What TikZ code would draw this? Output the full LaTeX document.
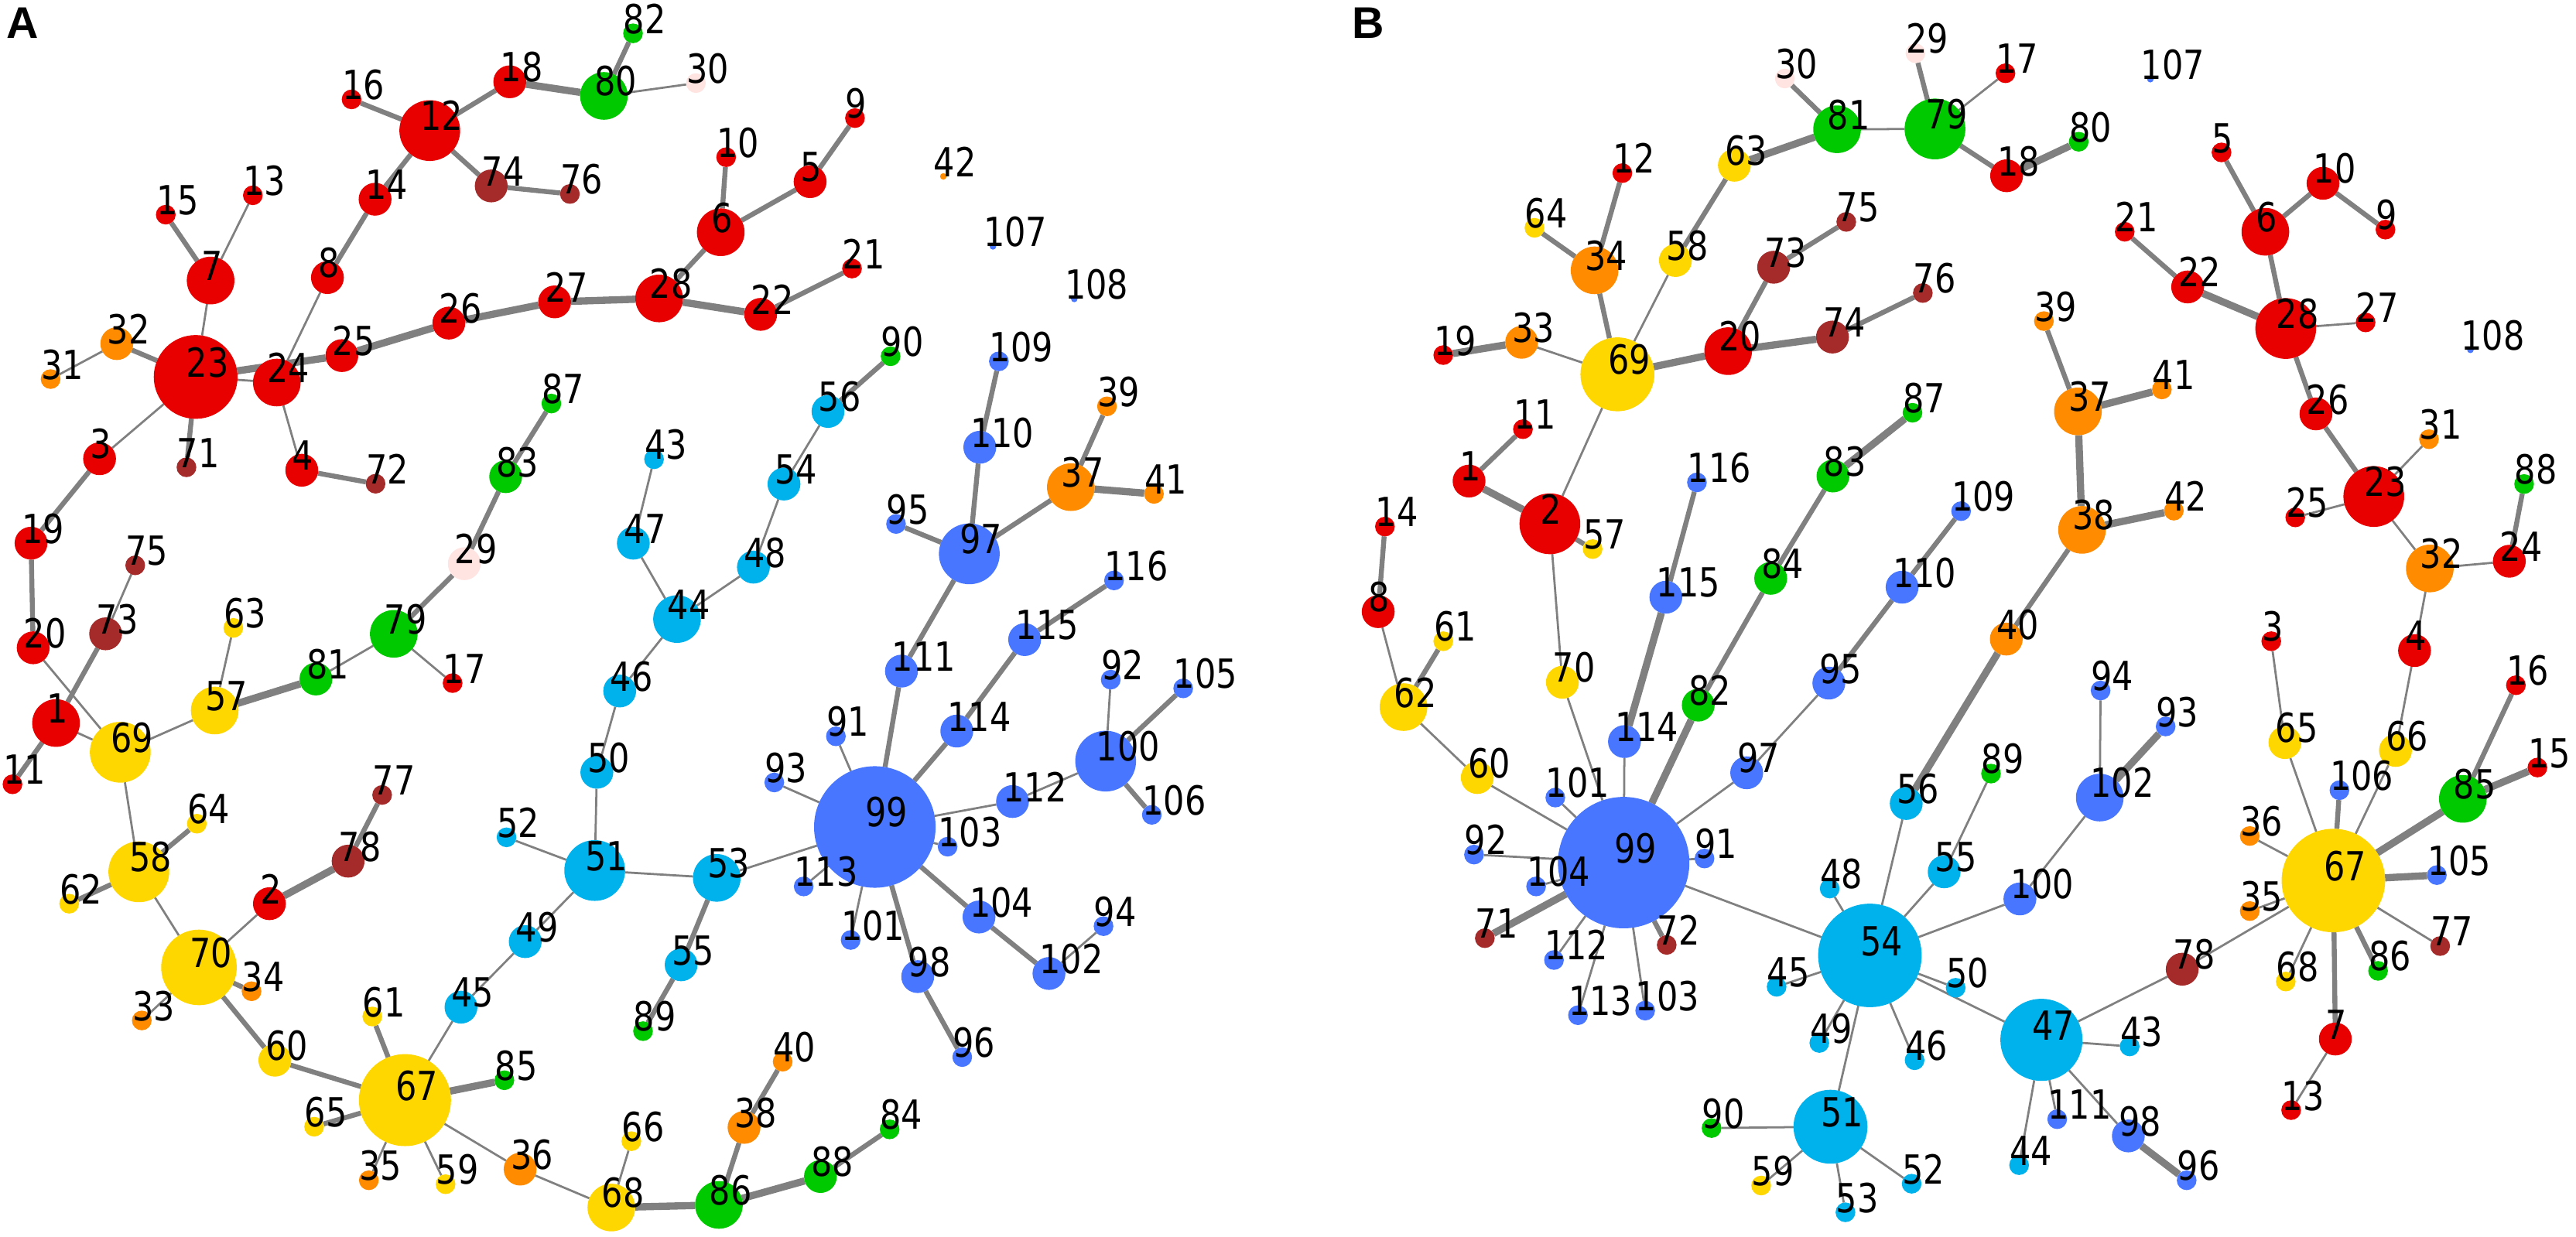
\documentclass[tikz,border=0pt]{standalone}
\usepackage{fontspec}
\newfontfamily\lblfont[FakeStretch=0.83]{DejaVu Sans}
\newfontfamily\panelfont{Liberation Sans}
\pgfdeclarelayer{edges}
\pgfdeclarelayer{labels}
\pgfsetlayers{edges,main,labels}
\definecolor{cR}{RGB}{232,0,0}
\definecolor{cBr}{RGB}{165,42,42}
\definecolor{cG}{RGB}{0,201,0}
\definecolor{cO}{RGB}{255,140,0}
\definecolor{cY}{RGB}{255,215,0}
\definecolor{cP}{RGB}{255,228,225}
\definecolor{cC}{RGB}{0,178,236}
\definecolor{cB}{RGB}{72,118,255}
\definecolor{cE}{RGB}{128,128,128}
\tikzset{
  vtx/.style={circle,inner sep=0pt,outer sep=0pt,draw=none},
  lbl/.style={anchor=base west,inner sep=0pt,outer sep=0pt,text=black,font=\lblfont\fontsize{24.4}{24.4}\selectfont},
  ea/.style={draw=cE,line width=1.3pt},
  eb/.style={draw=cE,line width=3pt},
  ec/.style={draw=cE,line width=4.4pt},
  paneltxt/.style={anchor=base west,inner sep=0pt,font=\panelfont\bfseries\fontsize{27}{27}\selectfont}
}
\newcommand\mkvtx[6]{%
  \node[vtx,fill=#5,minimum size=#4pt] (#1) at (#2,#3) {};
  \begin{pgfonlayer}{labels}\node[lbl] (#1t) at ([xshift=-5.7pt]#1.center) {#6};\end{pgfonlayer}}
\begin{document}
\begin{tikzpicture}[x=1pt,y=-1pt]
\path[use as bounding box] (0,0) rectangle (1568,753);
\node[paneltxt] (panelA) at (4,23.5) {A};
\node[paneltxt] (panelB) at (823,23.5) {B};
% ---------------- Panel A ----------------
\mkvtx{a1}{34.1}{440.2}{29}{cR}{1}
\mkvtx{a2}{164}{550.2}{20}{cR}{2}
\mkvtx{a3}{60.6}{279.3}{20}{cR}{3}
\mkvtx{a4}{183.7}{286.3}{20}{cR}{4}
\mkvtx{a5}{493.1}{110.6}{20}{cR}{5}
\mkvtx{a6}{438.7}{141.4}{29}{cR}{6}
\mkvtx{a7}{128.2}{170.8}{29}{cR}{7}
\mkvtx{a8}{199.3}{169}{20}{cR}{8}
\mkvtx{a9}{520.4}{71.9}{12}{cR}{9}
\mkvtx{a10}{442}{95.7}{12}{cR}{10}
\mkvtx{a11}{7.6}{477.5}{12}{cR}{11}
\mkvtx{a12}{261.6}{79.5}{37}{cR}{12}
\mkvtx{a13}{153.9}{118.9}{12}{cR}{13}
\mkvtx{a14}{228.3}{121.3}{20}{cR}{14}
\mkvtx{a15}{100.9}{130.7}{12}{cR}{15}
\mkvtx{a16}{214}{60.5}{12}{cR}{16}
\mkvtx{a17}{275.5}{415.9}{12}{cR}{17}
\mkvtx{a18}{310.3}{49.8}{20}{cR}{18}
\mkvtx{a19}{18.9}{330.7}{20}{cR}{19}
\mkvtx{a20}{20.2}{394.4}{20}{cR}{20}
\mkvtx{a21}{518.6}{163.5}{12}{cR}{21}
\mkvtx{a22}{463}{191.4}{20}{cR}{22}
\mkvtx{a23}{119.1}{229.5}{51}{cR}{23}
\mkvtx{a24}{168.5}{232.9}{29}{cR}{24}
\mkvtx{a25}{208.1}{216.5}{20}{cR}{25}
\mkvtx{a26}{273.2}{196.7}{20}{cR}{26}
\mkvtx{a27}{337.6}{183.8}{20}{cR}{27}
\mkvtx{a28}{401.2}{181.7}{29}{cR}{28}
\mkvtx{a29}{282.6}{343.2}{20}{cP}{29}
\mkvtx{a30}{423.6}{50.6}{12}{cP}{30}
\mkvtx{a31}{30.8}{230.8}{12}{cO}{31}
\mkvtx{a32}{71.1}{209.2}{20}{cO}{32}
\mkvtx{a33}{86.3}{621.3}{12}{cO}{33}
\mkvtx{a34}{153.1}{603.5}{12}{cO}{34}
\mkvtx{a35}{224.5}{718.6}{12}{cO}{35}
\mkvtx{a36}{316.6}{711.8}{20}{cO}{36}
\mkvtx{a37}{651.8}{296.6}{29}{cO}{37}
\mkvtx{a38}{452.9}{686.4}{20}{cO}{38}
\mkvtx{a39}{673.8}{247.4}{12}{cO}{39}
\mkvtx{a40}{476.4}{646.4}{12}{cO}{40}
\mkvtx{a41}{702.4}{300.7}{12}{cO}{41}
\mkvtx{a42}{574.2}{107.4}{4}{cO}{42}
\mkvtx{a43}{398.1}{279.6}{12}{cC}{43}
\mkvtx{a44}{412.1}{376.9}{29}{cC}{44}
\mkvtx{a45}{280.6}{613.2}{20}{cC}{45}
\mkvtx{a46}{377.2}{420.7}{20}{cC}{46}
\mkvtx{a47}{385.5}{330.7}{20}{cC}{47}
\mkvtx{a48}{458.6}{345.3}{20}{cC}{48}
\mkvtx{a49}{319.7}{573.3}{20}{cC}{49}
\mkvtx{a50}{363.3}{470.2}{20}{cC}{50}
\mkvtx{a51}{362}{530}{37}{cC}{51}
\mkvtx{a52}{308.3}{509.8}{12}{cC}{52}
\mkvtx{a53}{436.3}{534.5}{29}{cC}{53}
\mkvtx{a54}{477.2}{294.7}{20}{cC}{54}
\mkvtx{a55}{414.6}{587.4}{20}{cC}{55}
\mkvtx{a56}{504}{250.5}{20}{cC}{56}
\mkvtx{a57}{130.7}{432.6}{29}{cY}{57}
\mkvtx{a58}{84.5}{530.8}{37}{cY}{58}
\mkvtx{a59}{271.2}{721}{12}{cY}{59}
\mkvtx{a60}{167.3}{645.5}{20}{cY}{60}
\mkvtx{a61}{226.6}{618.9}{12}{cY}{61}
\mkvtx{a62}{42.1}{550.2}{12}{cY}{62}
\mkvtx{a63}{142}{382.3}{12}{cY}{63}
\mkvtx{a64}{119.8}{501.5}{12}{cY}{64}
\mkvtx{a65}{191.2}{686}{12}{cY}{65}
\mkvtx{a66}{384.3}{694.8}{12}{cY}{66}
\mkvtx{a67}{246.5}{669.8}{56}{cY}{67}
\mkvtx{a68}{372.1}{735.2}{29}{cY}{68}
\mkvtx{a69}{73.2}{458}{37}{cY}{69}
\mkvtx{a70}{121.1}{589}{46}{cY}{70}
\mkvtx{a71}{113.5}{284.5}{12}{cBr}{71}
\mkvtx{a72}{228.6}{294.5}{12}{cBr}{72}
\mkvtx{a73}{64.3}{385.9}{20}{cBr}{73}
\mkvtx{a74}{299}{113.2}{20}{cBr}{74}
\mkvtx{a75}{82.3}{344.2}{12}{cBr}{75}
\mkvtx{a76}{346.9}{118.1}{12}{cBr}{76}
\mkvtx{a77}{232.6}{484}{12}{cBr}{77}
\mkvtx{a78}{211.9}{524.3}{20}{cBr}{78}
\mkvtx{a79}{239.7}{385.9}{29}{cG}{79}
\mkvtx{a80}{367.6}{58.4}{29}{cG}{80}
\mkvtx{a81}{192.3}{413.4}{20}{cG}{81}
\mkvtx{a82}{385.3}{20.3}{12}{cG}{82}
\mkvtx{a83}{307.8}{290.2}{20}{cG}{83}
\mkvtx{a84}{541.5}{687.6}{12}{cG}{84}
\mkvtx{a85}{307}{657.7}{12}{cG}{85}
\mkvtx{a86}{437.6}{733.6}{29}{cG}{86}
\mkvtx{a87}{335.6}{245.7}{12}{cG}{87}
\mkvtx{a88}{499.4}{716.3}{20}{cG}{88}
\mkvtx{a89}{391.4}{627.8}{12}{cG}{89}
\mkvtx{a90}{542.1}{216.9}{12}{cG}{90}
\mkvtx{a91}{508.8}{448.3}{12}{cB}{91}
\mkvtx{a92}{676.1}{413.8}{12}{cB}{92}
\mkvtx{a93}{471.3}{476.4}{12}{cB}{93}
\mkvtx{a94}{671.7}{563.9}{12}{cB}{94}
\mkvtx{a95}{545.4}{319}{12}{cB}{95}
\mkvtx{a96}{585.7}{643.6}{12}{cB}{96}
\mkvtx{a97}{590}{337.2}{37}{cB}{97}
\mkvtx{a98}{558.6}{594.6}{20}{cB}{98}
\mkvtx{a99}{532.5}{503.5}{74}{cB}{99}
\mkvtx{a100}{673}{463.4}{37}{cB}{100}
\mkvtx{a101}{517.8}{572.3}{12}{cB}{101}
\mkvtx{a102}{638.5}{592.7}{20}{cB}{102}
\mkvtx{a103}{576.8}{515.5}{12}{cB}{103}
\mkvtx{a104}{595.9}{558.3}{20}{cB}{104}
\mkvtx{a105}{720.2}{419.1}{12}{cB}{105}
\mkvtx{a106}{701.1}{496.1}{12}{cB}{106}
\mkvtx{a107}{604.4}{150}{4}{cB}{107}
\mkvtx{a108}{653.9}{182}{4}{cB}{108}
\mkvtx{a109}{608}{220}{12}{cB}{109}
\mkvtx{a110}{596.4}{272.3}{20}{cB}{110}
\mkvtx{a111}{548.7}{408.6}{20}{cB}{111}
\mkvtx{a112}{616.3}{488}{20}{cB}{112}
\mkvtx{a113}{489.2}{539.7}{12}{cB}{113}
\mkvtx{a114}{582.4}{445.1}{20}{cB}{114}
\mkvtx{a115}{623.7}{389.4}{20}{cB}{115}
\mkvtx{a116}{678.1}{353.4}{12}{cB}{116}
% ---------------- Panel B ----------------
\mkvtx{b1}{894.2}{292.9}{20}{cR}{1}
\mkvtx{b2}{943.4}{318.9}{37}{cR}{2}
\mkvtx{b3}{1382.5}{390.4}{12}{cR}{3}
\mkvtx{b4}{1469.7}{396.1}{20}{cR}{4}
\mkvtx{b5}{1352.2}{92.8}{12}{cR}{5}
\mkvtx{b6}{1378.9}{141.1}{29}{cR}{6}
\mkvtx{b7}{1421.5}{632.6}{20}{cR}{7}
\mkvtx{b8}{838.9}{372.4}{20}{cR}{8}
\mkvtx{b9}{1452}{139.8}{12}{cR}{9}
\mkvtx{b10}{1414}{111.6}{20}{cR}{10}
\mkvtx{b11}{927}{261.3}{12}{cR}{11}
\mkvtx{b12}{987.5}{105.4}{12}{cR}{12}
\mkvtx{b13}{1394.6}{675.9}{12}{cR}{13}
\mkvtx{b14}{843}{320.6}{12}{cR}{14}
\mkvtx{b15}{1544.5}{467.3}{12}{cR}{15}
\mkvtx{b16}{1531.4}{417.2}{12}{cR}{16}
\mkvtx{b17}{1220.7}{44.6}{12}{cR}{17}
\mkvtx{b18}{1221.4}{107}{20}{cR}{18}
\mkvtx{b19}{878.5}{216.2}{12}{cR}{19}
\mkvtx{b20}{1051.9}{213.8}{29}{cR}{20}
\mkvtx{b21}{1293.3}{141.1}{12}{cR}{21}
\mkvtx{b22}{1331.6}{174.7}{20}{cR}{22}
\mkvtx{b23}{1444.9}{302.3}{37}{cR}{23}
\mkvtx{b24}{1527.4}{341.7}{20}{cR}{24}
\mkvtx{b25}{1397.1}{315}{12}{cR}{25}
\mkvtx{b26}{1409.7}{252}{20}{cR}{26}
\mkvtx{b27}{1439.9}{196.3}{12}{cR}{27}
\mkvtx{b28}{1391.3}{200}{37}{cR}{28}
\mkvtx{b29}{1165.9}{32.4}{12}{cP}{29}
\mkvtx{b30}{1086.4}{47.8}{12}{cP}{30}
\mkvtx{b31}{1478.5}{267.4}{12}{cO}{31}
\mkvtx{b32}{1479}{346.1}{29}{cO}{32}
\mkvtx{b33}{926.2}{208.4}{20}{cO}{33}
\mkvtx{b34}{970.6}{164.6}{29}{cO}{34}
\mkvtx{b35}{1369.4}{554.7}{12}{cO}{35}
\mkvtx{b36}{1369.4}{509}{12}{cO}{36}
\mkvtx{b37}{1264.8}{250.5}{29}{cO}{37}
\mkvtx{b38}{1267.3}{322.6}{29}{cO}{38}
\mkvtx{b39}{1244.1}{195.5}{12}{cO}{39}
\mkvtx{b40}{1221.2}{389.1}{20}{cO}{40}
\mkvtx{b41}{1315.9}{237.1}{12}{cO}{41}
\mkvtx{b42}{1323.2}{310.9}{12}{cO}{42}
\mkvtx{b43}{1296.3}{637.1}{12}{cC}{43}
\mkvtx{b44}{1229}{709.4}{12}{cC}{44}
\mkvtx{b45}{1081.4}{600.8}{12}{cC}{45}
\mkvtx{b46}{1165.4}{645.5}{12}{cC}{46}
\mkvtx{b47}{1242.6}{633.1}{50}{cC}{47}
\mkvtx{b48}{1113.7}{541}{12}{cC}{48}
\mkvtx{b49}{1107.4}{635}{12}{cC}{49}
\mkvtx{b50}{1190.4}{601.4}{12}{cC}{50}
\mkvtx{b51}{1114.2}{686}{45}{cC}{51}
\mkvtx{b52}{1163.6}{720.7}{12}{cC}{52}
\mkvtx{b53}{1123.3}{738.1}{12}{cC}{53}
\mkvtx{b54}{1138.2}{581.7}{63}{cC}{54}
\mkvtx{b55}{1183.4}{530.8}{20}{cC}{55}
\mkvtx{b56}{1160.3}{489.2}{20}{cC}{56}
\mkvtx{b57}{969.4}{334.3}{12}{cY}{57}
\mkvtx{b58}{1019.8}{158.6}{20}{cY}{58}
\mkvtx{b59}{1072}{721.8}{12}{cY}{59}
\mkvtx{b60}{899.2}{473.4}{20}{cY}{60}
\mkvtx{b61}{878.5}{390.4}{12}{cY}{61}
\mkvtx{b62}{854.3}{430.5}{29}{cY}{62}
\mkvtx{b63}{1055.7}{100.6}{20}{cY}{63}
\mkvtx{b64}{934}{138.7}{12}{cY}{64}
\mkvtx{b65}{1390.8}{452.1}{20}{cY}{65}
\mkvtx{b66}{1458.1}{456.9}{20}{cY}{66}
\mkvtx{b67}{1420.3}{536.1}{63}{cY}{67}
\mkvtx{b68}{1391.3}{597.6}{12}{cY}{68}
\mkvtx{b69}{984.5}{227.9}{45}{cY}{69}
\mkvtx{b70}{951}{415.4}{20}{cY}{70}
\mkvtx{b71}{903.8}{571.2}{12}{cBr}{71}
\mkvtx{b72}{1014.5}{575.3}{12}{cBr}{72}
\mkvtx{b73}{1079.6}{162.7}{20}{cBr}{73}
\mkvtx{b74}{1115.4}{205.2}{20}{cBr}{74}
\mkvtx{b75}{1123.8}{135.1}{12}{cBr}{75}
\mkvtx{b76}{1170.4}{178.4}{12}{cBr}{76}
\mkvtx{b77}{1485.3}{576}{12}{cBr}{77}
\mkvtx{b78}{1328.3}{590.1}{20}{cBr}{78}
\mkvtx{b79}{1177.8}{78.5}{37}{cG}{79}
\mkvtx{b80}{1265.3}{86.3}{12}{cG}{80}
\mkvtx{b81}{1118.2}{78.7}{29}{cG}{81}
\mkvtx{b82}{1033.7}{429.3}{20}{cG}{82}
\mkvtx{b83}{1115.7}{289.8}{20}{cG}{83}
\mkvtx{b84}{1077.8}{352.1}{20}{cG}{84}
\mkvtx{b85}{1499.1}{486.4}{29}{cG}{85}
\mkvtx{b86}{1447.5}{591.1}{12}{cG}{86}
\mkvtx{b87}{1164.1}{251.3}{12}{cG}{87}
\mkvtx{b88}{1536.4}{294.7}{12}{cG}{88}
\mkvtx{b89}{1211.9}{471}{12}{cG}{89}
\mkvtx{b90}{1041.8}{686.8}{12}{cG}{90}
\mkvtx{b91}{1037.5}{522.7}{12}{cB}{91}
\mkvtx{b92}{897.2}{520.3}{12}{cB}{92}
\mkvtx{b93}{1318.2}{442.3}{12}{cB}{93}
\mkvtx{b94}{1278.6}{420.4}{12}{cB}{94}
\mkvtx{b95}{1113.2}{415.9}{20}{cB}{95}
\mkvtx{b96}{1331}{718.6}{12}{cB}{96}
\mkvtx{b97}{1063.2}{470.5}{20}{cB}{97}
\mkvtx{b98}{1295.5}{691.6}{20}{cB}{98}
\mkvtx{b99}{988.3}{525.2}{80}{cB}{99}
\mkvtx{b100}{1229.5}{547.3}{20}{cB}{100}
\mkvtx{b101}{946.7}{485.6}{12}{cB}{101}
\mkvtx{b102}{1278.1}{485.6}{29}{cB}{102}
\mkvtx{b103}{1001.4}{615.3}{12}{cB}{103}
\mkvtx{b104}{935}{539.7}{12}{cB}{104}
\mkvtx{b105}{1483.3}{532.8}{12}{cB}{105}
\mkvtx{b106}{1424}{481.1}{12}{cB}{106}
\mkvtx{b107}{1308.9}{48.2}{4}{cB}{107}
\mkvtx{b108}{1503.7}{213}{4}{cB}{108}
\mkvtx{b109}{1193.7}{311.2}{12}{cB}{109}
\mkvtx{b110}{1157.8}{357.5}{20}{cB}{110}
\mkvtx{b111}{1252.2}{681.4}{12}{cB}{111}
\mkvtx{b112}{945.9}{584.5}{12}{cB}{112}
\mkvtx{b113}{960.5}{618.1}{12}{cB}{113}
\mkvtx{b114}{988.8}{451.5}{20}{cB}{114}
\mkvtx{b115}{1014}{363.6}{20}{cB}{115}
\mkvtx{b116}{1032.9}{293.7}{12}{cB}{116}
% ---------------- Edges ----------------
\begin{pgfonlayer}{edges}
\foreach \u/\v in {a7/a13,a7/a23,a8/a24,a31/a32,a23/a24,a80/a30,a23/a3,a24/a4,a20/a69,a73/a75,a1/a69,a79/a17,a79/a81,a57/a63,a57/a69,a69/a58,a58/a70,a70/a2,a70/a33,a67/a45,a45/a49,a49/a51,a51/a52,a51/a50,a50/a46,a46/a44,a44/a47,a47/a43,a44/a48,a48/a54,a54/a56,a51/a53,a53/a99,a67/a35,a67/a59,a67/a36,a36/a68,a68/a66,a99/a93,a99/a91,a99/a112,a112/a100,a100/a92,a99/a103,a99/a113,a99/a101,a102/a94}
  \draw[ea] (\u) -- (\v);
\foreach \u/\v in {a12/a16,a12/a18,a80/a82,a12/a14,a14/a8,a12/a74,a74/a76,a7/a15,a23/a32,a22/a21,a28/a6,a6/a10,a6/a5,a5/a9,a23/a71,a4/a72,a3/a19,a19/a20,a1/a73,a1/a11,a83/a87,a83/a29,a29/a79,a58/a64,a58/a62,a78/a77,a70/a34,a70/a60,a60/a67,a67/a61,a56/a90,a53/a55,a55/a89,a67/a65,a86/a38,a38/a40,a88/a84,a99/a111,a111/a97,a97/a95,a97/a110,a110/a109,a97/a37,a37/a39,a99/a114,a114/a115,a115/a116,a100/a105,a100/a106,a99/a98,a98/a96,a99/a104,a104/a102}
  \draw[eb] (\u) -- (\v);
\foreach \u/\v in {a18/a80,a23/a25,a25/a26,a26/a27,a27/a28,a28/a22,a81/a57,a2/a78,a67/a85,a68/a86,a86/a88,a37/a41}
  \draw[ec] (\u) -- (\v);
\foreach \u/\v in {b79/b81,b79/b17,b58/b69,b33/b69,b69/b2,b2/b70,b8/b62,b62/b60,b60/b99,b70/b99,b101/b99,b114/b99,b97/b99,b95/b97,b92/b99,b104/b99,b112/b99,b113/b99,b103/b99,b91/b99,b99/b54,b54/b48,b54/b45,b54/b49,b54/b51,b54/b46,b54/b56,b54/b55,b54/b50,b54/b47,b54/b100,b51/b90,b51/b59,b51/b53,b51/b52,b47/b43,b47/b78,b78/b67,b47/b44,b47/b111,b47/b98,b100/b102,b102/b94,b55/b89,b36/b67,b35/b67,b68/b67,b7/b13,b77/b67,b65/b67,b66/b67,b3/b65,b4/b66,b32/b4,b23/b32,b24/b32,b23/b31,b23/b25,b28/b27}
  \draw[ea] (\u) -- (\v);
\foreach \u/\v in {b30/b81,b29/b79,b79/b18,b63/b58,b12/b34,b64/b34,b34/b69,b20/b73,b73/b75,b74/b76,b1/b11,b2/b57,b14/b8,b62/b61,b116/b115,b83/b84,b84/b82,b110/b95,b109/b110,b72/b99,b37/b39,b38/b40,b7/b67,b86/b67,b106/b67,b24/b88,b26/b23,b28/b26,b21/b22,b6/b28,b5/b6,b6/b10,b10/b9,b16/b85}
  \draw[eb] (\u) -- (\v);
\foreach \u/\v in {b81/b63,b18/b80,b19/b33,b69/b20,b20/b74,b2/b1,b115/b114,b87/b83,b82/b99,b71/b99,b56/b40,b38/b42,b37/b38,b37/b41,b102/b93,b98/b96,b105/b67,b85/b67,b85/b15,b22/b28}
  \draw[ec] (\u) -- (\v);
\end{pgfonlayer}
\end{tikzpicture}
\end{document}
